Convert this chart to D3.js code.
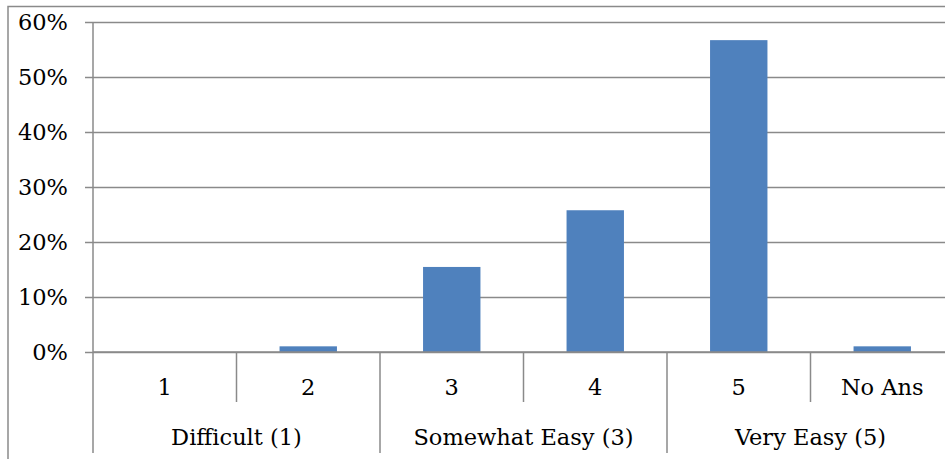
<!DOCTYPE html>
<html>
<head>
<meta charset="utf-8">
<script src="https://cdn.jsdelivr.net/npm/d3@7"></script>
<style>
  html, body { margin: 0; padding: 0; background: #fff; }
  svg { display: block; }
  text { font-family: "DejaVu Serif", "Liberation Serif", serif; fill: #000; }
</style>
</head>
<body>
<svg id="chart" width="945" height="459"></svg>
<script>
// Survey answers, share of respondents per rating
const categories = ["1", "2", "3", "4", "5", "No Ans"];
const shares = [0, 1 / 97, 15 / 97, 25 / 97, 55 / 97, 1 / 97];
const groups = [
  { label: "Difficult (1)", from: 0, to: 2 },
  { label: "Somewhat Easy (3)", from: 2, to: 4 },
  { label: "Very Easy (5)", from: 4, to: 6 }
];
const yTicks = [0, 0.1, 0.2, 0.3, 0.4, 0.5, 0.6];

const svg = d3.select("#chart");
const gridColor = "#8a8a8a";
const plotLeft = 93, plotRight = 954, plotTop = 22, plotBottom = 352;

const x = d3.scaleBand().domain(categories).range([plotLeft, plotRight]).paddingInner(0).paddingOuter(0);
const barScale = d3.scaleBand().domain(categories).range([plotLeft, plotRight]).paddingInner(0.6).paddingOuter(0.3);
const y = d3.scaleLinear().domain([0, 0.6]).range([plotBottom, plotTop]);

// Outer chart frame
svg.append("rect")
  .attr("x", 8).attr("y", 6.5)
  .attr("width", 1000).attr("height", 500)
  .attr("fill", "none").attr("stroke", gridColor).attr("stroke-width", 1.5);

// Horizontal gridlines with y axis labels
const yAxis = d3.axisLeft(y).tickValues(yTicks).tickFormat(d3.format(".0%"))
  .tickSize(-(plotRight - plotLeft)).tickPadding(25);
const yg = svg.append("g").attr("transform", `translate(${plotLeft},0)`).call(yAxis);
yg.select(".domain").remove();
yg.selectAll(".tick line").attr("x1", -8).attr("stroke", gridColor).attr("stroke-width", 1.5);
yg.selectAll(".tick text").attr("font-size", 22.5).attr("font-family", "DejaVu Serif").attr("fill", "#000");

// Vertical axis line reaching down through the label rows
svg.append("line").attr("x1", plotLeft).attr("x2", plotLeft).attr("y1", plotTop).attr("y2", 453)
  .attr("stroke", gridColor).attr("stroke-width", 1.5);

// Bars
svg.append("g").selectAll("rect").data(categories).join("rect")
  .attr("x", d => barScale(d))
  .attr("width", barScale.bandwidth())
  .attr("y", (d, i) => y(shares[i]))
  .attr("height", (d, i) => y(0) - y(shares[i]))
  .attr("fill", "#4f81bd");

// Baseline
svg.append("line").attr("x1", plotLeft).attr("x2", plotRight).attr("y1", plotBottom).attr("y2", plotBottom)
  .attr("stroke", gridColor).attr("stroke-width", 1.5);

// Category dividers: short within groups, long between groups
const dividers = categories.map((c, i) => i).filter(i => i > 0);
svg.append("g").selectAll("line").data(dividers).join("line")
  .attr("x1", i => x(categories[i])).attr("x2", i => x(categories[i]))
  .attr("y1", plotBottom)
  .attr("y2", i => (i % 2 === 0 ? 453 : 402))
  .attr("stroke", gridColor).attr("stroke-width", 1.5);

// Category labels
svg.append("g").selectAll("text").data(categories).join("text")
  .attr("x", d => x(d) + x.bandwidth() / 2)
  .attr("y", 395)
  .attr("text-anchor", "middle")
  .attr("font-size", 22.5)
  .text(d => d);

// Group labels
svg.append("g").selectAll("text").data(groups).join("text")
  .attr("x", g => (x(categories[g.from]) + x(categories[g.to - 1]) + x.bandwidth()) / 2)
  .attr("y", 445)
  .attr("text-anchor", "middle")
  .attr("font-size", 22.5)
  .text(g => g.label);
</script>
</body>
</html>
